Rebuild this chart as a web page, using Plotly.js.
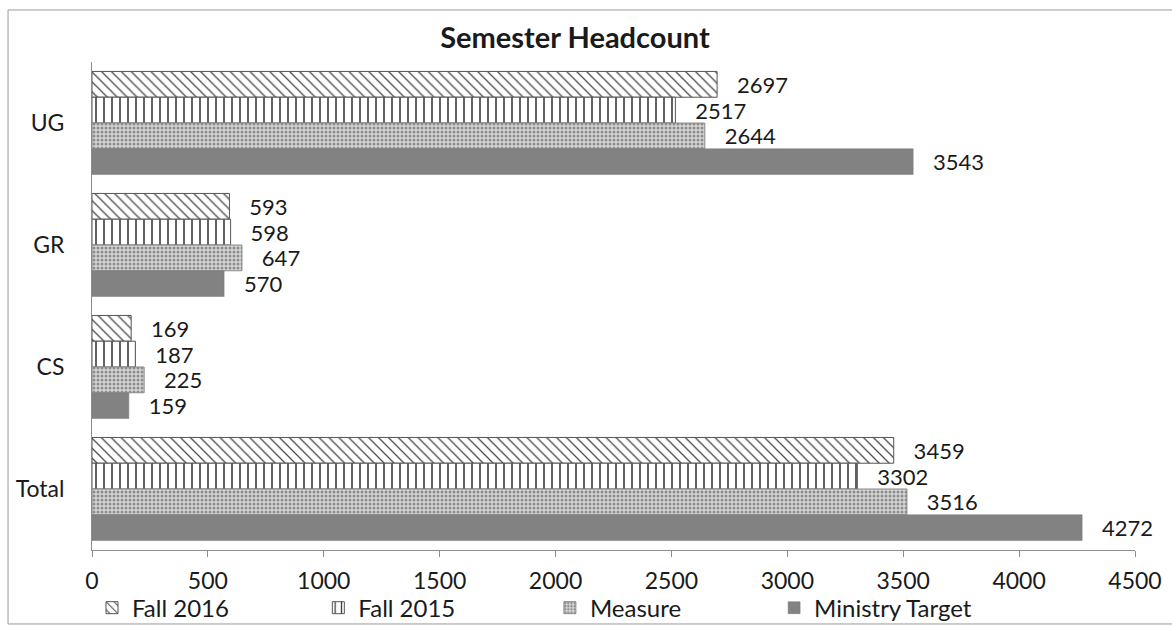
<!DOCTYPE html>
<html>
<head>
<meta charset="utf-8">
<script src="https://cdn.plot.ly/plotly-3.0.1.min.js"></script>
<style>html,body{margin:0;padding:0;background:#fff;}#chart{width:1172px;height:626px;}</style>
</head>
<body>
<div id="chart"></div>
<script>
const categories = ['UG', 'GR', 'CS', 'Total'];
const fall2016 = [2697, 593, 169, 3459];
const fall2015 = [2517, 598, 187, 3302];
const measure = [2644, 647, 225, 3516];
const ministryTarget = [3543, 570, 159, 4272];
const seriesNames = ['Fall 2016', 'Fall 2015', 'Measure', 'Ministry Target'];
const xTicks = [0, 500, 1000, 1500, 2000, 2500, 3000, 3500, 4000, 4500];

const FONT = 'Lato, "Open Sans", sans-serif';
const labelFont = {family: FONT, size: 22, color: '#1a1a1a'};
const pad = '\u00a0\u00a0\u00a0';

function barTrace(name, values, marker, legendId) {
  return {
    type: 'bar', orientation: 'h', name: name,
    y: categories, x: values,
    marker: marker,
    text: values.map(v => pad + v),
    textposition: 'outside',
    texttemplate: '%{text}',
    textfont: labelFont,
    constraintext: 'none',
    cliponaxis: false,
    hoverinfo: 'x+name',
    legend: legendId
  };
}

const traces = [
  barTrace(seriesNames[0], fall2016, {
    color: '#ffffff',
    line: {color: '#555555', width: 1},
    pattern: {shape: '\\', fgcolor: '#4a4a4a', bgcolor: '#ffffff', size: 7, solidity: 0.18}
  }, 'legend'),
  barTrace(seriesNames[1], fall2015, {
    color: '#ffffff',
    line: {color: '#555555', width: 1},
    pattern: {shape: '|', fgcolor: '#3a3a3a', bgcolor: '#ffffff', size: 8, solidity: 0.2}
  }, 'legend2'),
  barTrace(seriesNames[2], measure, {
    color: '#c4c4c4',
    line: {color: '#8a8a8a', width: 1},
    pattern: {shape: '.', fgcolor: '#8c8c8c', bgcolor: '#d6d6d6', size: 4, solidity: 0.45}
  }, 'legend3'),
  barTrace(seriesNames[3], ministryTarget, {
    color: '#828282',
    line: {color: '#7a7a7a', width: 0.5}
  }, 'legend4')
];

const legendBase = {
  orientation: 'h', yanchor: 'middle', xanchor: 'left', y: -0.119,
  font: {family: FONT, size: 24, color: '#1a1a1a'},
  bgcolor: 'rgba(0,0,0,0)', borderwidth: 0
};

const layout = {
  width: 1172, height: 626,
  margin: {l: 92, r: 37, t: 62, b: 76, autoexpand: false},
  paper_bgcolor: '#ffffff', plot_bgcolor: '#ffffff',
  font: {family: FONT, color: '#1a1a1a'},
  title: {
    text: '<b>Semester Headcount</b>',
    font: {family: FONT, size: 29, color: '#1a1a1a'},
    x: 0.4906, xanchor: 'center', xref: 'container',
    y: 0.939, yanchor: 'middle', yref: 'container'
  },
  barmode: 'group', bargap: 0.155, bargroupgap: 0,
  xaxis: {
    range: [0, 4500], tickvals: xTicks, ticktext: xTicks.map(String),
    showgrid: false, zeroline: false,
    showline: true, linecolor: '#8c8c8c', linewidth: 1,
    ticks: 'outside', ticklen: 6, tickcolor: '#8c8c8c',
    ticklabelstandoff: 4,
    tickfont: {family: FONT, size: 23, color: '#1a1a1a'}
  },
  yaxis: {
    type: 'category', autorange: 'reversed',
    showgrid: false, zeroline: false,
    showline: true, linecolor: '#8c8c8c', linewidth: 1,
    ticks: '', ticklabelstandoff: 22,
    tickfont: {family: FONT, size: 23, color: '#1a1a1a'}
  },
  showlegend: true,
  legend: Object.assign({}, legendBase, {x: 0.0}),
  legend2: Object.assign({}, legendBase, {x: 0.217}),
  legend3: Object.assign({}, legendBase, {x: 0.439}),
  legend4: Object.assign({}, legendBase, {x: 0.654}),
  shapes: [{
    type: 'rect', xref: 'paper', yref: 'paper', layer: 'below',
    x0: -0.0805, x1: 1.06, y0: -0.1516, y1: 1.1066,
    line: {color: '#9a9a9a', width: 1}, fillcolor: 'rgba(0,0,0,0)'
  }]
};

Plotly.newPlot('chart', traces, layout, {displayModeBar: false, staticPlot: true});
</script>
</body>
</html>
